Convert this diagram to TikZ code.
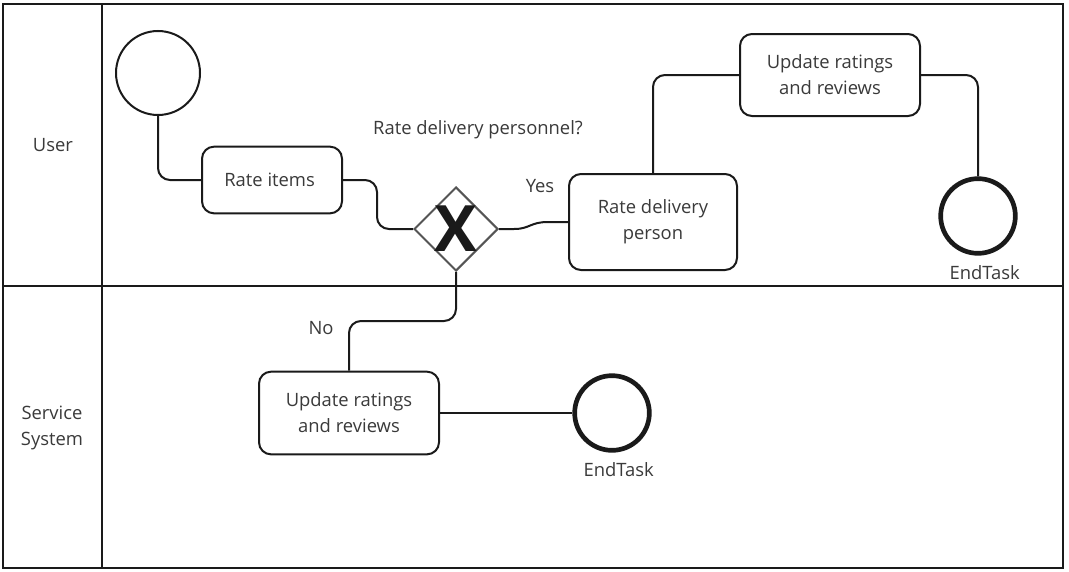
\documentclass[tikz,border=0pt]{standalone}
\usepackage{fontspec}
\setmainfont{Open Sans}
\usepackage{tikz}
\usetikzlibrary{shapes,positioning}

\definecolor{texto}{HTML}{3A3A3A}
\definecolor{borde}{HTML}{1A1A1A}
\definecolor{gris}{HTML}{555555}

\begin{document}
\begin{tikzpicture}[
      x=0.75pt,
      y=-0.75pt,
      font=\fontsize{13.8}{19.5}\selectfont,
      text=texto
    ]

    \tikzstyle{carril} = [
        draw=borde,
        line width=1.5pt
    ]

    \tikzstyle{inicio} = [
        circle,
        draw=borde,
        line width=1.5pt,
        minimum size=63pt,
        inner sep=0pt
    ]

    \tikzstyle{fin} = [
        circle,
        draw=borde,
        line width=3.5pt,
        minimum size=56pt,
        inner sep=0pt
    ]

    \tikzstyle{tarea} = [
        rectangle,
        rounded corners=9pt,
        draw=borde,
        line width=1.5pt,
        align=center,
        inner sep=0pt
    ]

    \tikzstyle{puerta} = [
        diamond,
        draw=gris,
        line width=1.5pt,
        aspect=1,
        minimum size=63pt,
        inner sep=0pt,
        label={[text=borde, font=\fontsize{48}{48}\selectfont\bfseries]center:X}
    ]

    \tikzstyle{line} = [
        draw=borde,
        line width=1.5pt,
        rounded corners=9pt
    ]

    % lanes
    \useasboundingbox (0,0) rectangle (1069,571);
    \fill[white] (0,0) rectangle (1069,571);
    \draw [carril] (3,4) rectangle (1063,568);
    \draw [carril] (102,4) -- (102,568);
    \draw [carril] (3,286) -- (1063,286);

    \node at (53,145)                                     (user) { User };
    \node [align=center] at (52,428)                    (system) { Service\\System };

    % user lane
    \node [inicio] at (158,73)                           (start) {};
    \node [tarea, minimum width=105pt, minimum height=50pt] at (272,180)   (rateitems) { Rate items };
    \node [puerta] at (456,229)                           (gate) {};
    \node [tarea, minimum width=126pt, minimum height=72pt] at (653,222)   (ratedp) { Rate delivery\\person };
    \node [tarea, minimum width=135pt, minimum height=61.5pt] at (830,75)  (updateA) { Update ratings\\and reviews };
    \node [fin] at (978,216)                              (endA) {};
    \node [below=4pt of endA, xshift=5pt]               (endAlbl) { EndTask };

    \node at (478,130)                                 (question) { Rate delivery personnel? };
    \node at (540,186)                                      (yes) { Yes };

    % system lane
    \node [tarea, minimum width=135pt, minimum height=62pt] at (349,413)   (updateB) { Update ratings\\and reviews };
    \node [fin] at (612,413)                              (endB) {};
    \node [below=4pt of endB, xshift=5pt]               (endBlbl) { EndTask };
    \node at (321,328)                                       (no) { No };

    \path [line] (start.south) |- (rateitems.west);
    \path [line] (rateitems.east) -- ++(34,0) |- (gate.west);
    \path [line, sharp corners] (gate.east) -- (514,229) .. controls (530,229) and (530,222) .. (548,222) -- (ratedp.west);
    \path [line] (ratedp.north) |- (updateA.west);
    \path [line] (updateA.east) -| (endA.north);
    \path [line] (gate.south) -- ++(0,49) -| (updateB.north);
    \path [line] (updateB.east) -- (endB.west);

\end{tikzpicture}
\end{document}
